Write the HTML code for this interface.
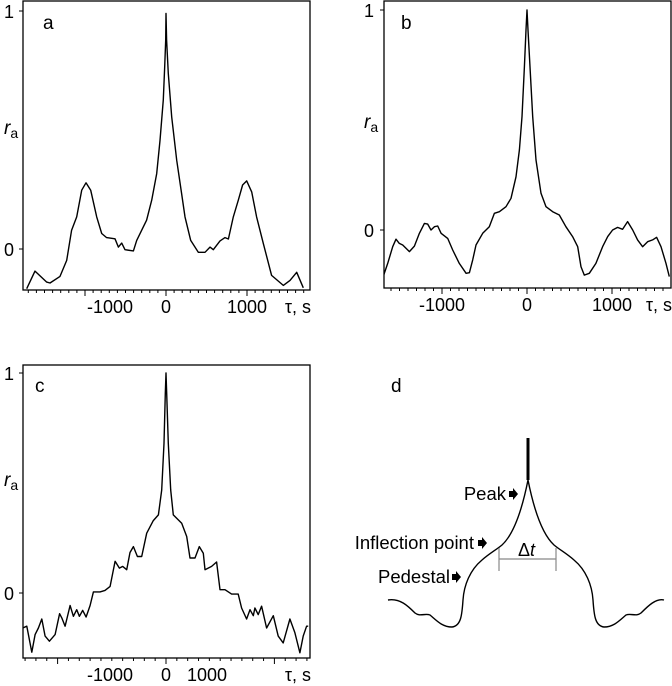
<!DOCTYPE html>
<html><head><meta charset="utf-8">
<style>
html,body{margin:0;padding:0;background:#fff;}
svg{display:block;font-family:"Liberation Sans",sans-serif;}
</style></head>
<body>
<svg id="fig" width="672" height="686" viewBox="0 0 672 686" xmlns="http://www.w3.org/2000/svg"></svg>
<script>
const tauA=[-1720,-1617,-1473,-1432,-1309,-1226,-1165,-1103,-1041,-988,-930,-856,-794,-733,-630,-588,-547,-506,-403,-362,-300,-239,-177,-115,-74,-33,-16,-4,0,8,29,70,132,193,235,305,399,481,543,584,667,728,770,831,893,946,996,1058,1119,1202,1304,1448,1531,1613,1695];
const valA=[-0.167,-0.093,-0.139,-0.143,-0.115,-0.048,0.079,0.135,0.247,0.278,0.247,0.135,0.065,0.048,0.043,0.008,0.025,-0.003,-0.008,0.036,0.079,0.121,0.205,0.317,0.456,0.627,0.767,0.878,0.99,0.878,0.737,0.555,0.373,0.233,0.135,0.036,-0.014,-0.014,0.008,-0.003,0.034,0.048,0.042,0.135,0.205,0.269,0.286,0.240,0.135,0.022,-0.111,-0.153,-0.132,-0.098,-0.163];
const tauB=[-1686,-1639,-1580,-1541,-1502,-1462,-1423,-1384,-1325,-1266,-1207,-1168,-1129,-1090,-1051,-1011,-933,-874,-796,-717,-678,-639,-600,-521,-443,-384,-325,-247,-188,-129,-90,-59,-31,-12,0,12,35,67,106,165,223,302,380,458,537,596,635,674,733,811,890,949,1007,1066,1125,1184,1243,1301,1360,1419,1478,1525,1576,1635,1674];
const valB=[-0.205,-0.152,-0.076,-0.042,-0.061,-0.068,-0.083,-0.098,-0.073,-0.015,0.030,0.027,0.000,0.015,0.018,-0.015,-0.038,-0.091,-0.152,-0.197,-0.194,-0.136,-0.068,-0.015,0.015,0.076,0.083,0.106,0.144,0.242,0.364,0.515,0.742,0.909,1.0,0.909,0.742,0.515,0.318,0.167,0.106,0.083,0.068,0.015,-0.030,-0.076,-0.167,-0.205,-0.197,-0.152,-0.076,-0.030,0.000,0.012,0.003,0.038,0.000,-0.045,-0.076,-0.053,-0.045,-0.033,-0.076,-0.152,-0.212];
const tauC=[-2642,-2569,-2476,-2415,-2354,-2292,-2231,-2151,-2047,-1964,-1923,-1862,-1770,-1708,-1647,-1598,-1536,-1475,-1401,-1340,-1217,-1125,-1032,-940,-860,-799,-725,-664,-602,-528,-449,-356,-234,-141,-80,-37,-12,0,12,43,86,135,289,381,442,535,615,688,719,842,934,996,1088,1211,1333,1395,1487,1549,1610,1641,1702,1764,1856,1979,2071,2163,2286,2378,2470,2532,2594,2624];
const valC=[-0.159,-0.151,-0.269,-0.189,-0.159,-0.118,-0.196,-0.219,-0.189,-0.094,-0.113,-0.151,-0.057,-0.106,-0.076,-0.106,-0.079,-0.109,-0.057,0.005,0.005,0.012,0.030,0.144,0.113,0.121,0.106,0.184,0.211,0.166,0.166,0.272,0.329,0.355,0.468,0.680,0.906,1.0,0.906,0.680,0.468,0.355,0.317,0.257,0.159,0.159,0.211,0.181,0.106,0.121,0.141,0.015,0.015,-0.005,-0.005,-0.068,-0.118,-0.076,-0.103,-0.068,-0.098,-0.060,-0.159,-0.103,-0.196,-0.227,-0.118,-0.181,-0.272,-0.196,-0.151,-0.151];
const xTickLabelsAB=["-1000","0","1000"];
const xTickValsAB=[-1000,0,1000];
const xTickLabelsC=["-1000","0","1000"];
const yTickLabels=["0","1"];
const yTickVals=[0,1];

const NS="http://www.w3.org/2000/svg";
const svg=document.getElementById('fig');
function mk(tag,attrs,parent){const e=document.createElementNS(NS,tag);for(const k in attrs)e.setAttribute(k,attrs[k]);(parent||svg).appendChild(e);return e;}

const panels=[
 {id:'a',L:23,R:310,T:1,B:290,x0:166,pxPer:81,y0:249,y1:11,tau:tauA,val:valA,minor:100,major:1000,
  xl:[[110,'-1000'],[166,'0'],[247,'1000']],letter:[43,29],ylx:4,ry:134},
 {id:'b',L:384,R:671,T:1,B:288,x0:527,pxPer:85,y0:230,y1:10,tau:tauB,val:valB,minor:100,major:1000,
  xl:[[442,'-1000'],[527,'0'],[612,'1000']],letter:[401,29],ylx:364,ry:128},
 {id:'c',L:23,R:310,T:365,B:658,x0:166,pxPer:54.2,y0:593,y1:373,tau:tauC,val:valC,minor:200,major:2000,
  xl:[[110,'-1000'],[166,'0'],[207,'1000']],letter:[35,392],ylx:4,ry:486}
];
panels.forEach(p=>{
  const g=mk('g',{});
  
  
  const X=t=>p.x0+t*p.pxPer/1000;
  const Y=v=>p.y0-v*(p.y0-p.y1);
  const cp=mk('clipPath',{id:'clip'+p.id},g);
  mk('rect',{x:p.L,y:p.T,width:p.R-p.L,height:p.B-p.T},cp);
  const fr=mk('rect',{x:p.L,y:p.T,width:p.R-p.L,height:p.B-p.T,fill:'none',stroke:'#000','stroke-width':1.3},g);
  
  
  const tmin=Math.ceil((p.L-p.x0)/p.pxPer*1000/p.minor)*p.minor;
  for(let t=tmin;X(t)<=p.R;t+=p.minor){
    const maj=(Math.abs(t)%p.major===0);
    const tk=mk('line',{x1:X(t),x2:X(t),y1:p.B,y2:p.B+(maj?6:3),stroke:'#000','stroke-width':1},g);
    
    
  }
  yTickVals.forEach((v,i)=>{
    const tk=mk('line',{x1:p.L-4,x2:p.L,y1:Y(v),y2:Y(v),stroke:'#000','stroke-width':1},g);
    
    
    const tl=mk('text',{x:p.ylx,y:Y(v)+7,'font-size':18},g);
    tl.textContent=yTickLabels[i];
    
    
  });
  p.xl.forEach(([x,s])=>{
    const tl=mk('text',{x:x,y:p.B+23,'font-size':18,'text-anchor':'middle'},g);
    tl.textContent=s;
    
    
  });
  const xt=mk('text',{x:p.R+1,y:p.B+23,'font-size':18,'text-anchor':'end'},g);
  xt.textContent='τ, s';
  
  
  const yt=mk('text',{x:p.ylx,y:p.ry,'font-size':19,'font-style':'italic'},g);
  yt.innerHTML='r<tspan font-size="14" dy="4" font-style="normal">a</tspan>';
  
  
  const lt=mk('text',{x:p.letter[0],y:p.letter[1],'font-size':19},g);
  lt.textContent=p.id;
  
  
  let d='';
  p.tau.forEach((t,i)=>{d+=(i?'L':'M')+X(t).toFixed(1)+' '+Y(p.val[i]).toFixed(1);});
  const ln=mk('path',{d:d,fill:'none',stroke:'#000','stroke-width':1.4,'clip-path':'url(#clip'+p.id+')','stroke-linejoin':'round'},g);
  
  
});
</script>
<svg style="position:absolute;left:0;top:0" width="672" height="686">
  <text x="391" y="392" font-size="19" font-family="Liberation Sans">d</text>
  <path d="M388 600 C400 598 408 606 415 613 C420 617 425 613 430 615 C436 620 442 627 452 627 C461 626 462 615 463 600 C464 585 470 570 482 560 C490 553 496 550 502 545 C515 533 523 505 528 480 C533 505 541 533 554 545 C560 550 566 553 574 560 C586 570 592 585 593 600 C594 615 595 626 604 627 C614 627 620 620 626 615 C631 613 636 617 641 613 C648 606 656 598 664 600" fill="none" stroke="#000" stroke-width="1.4"/>
  <line x1="528" y1="438" x2="528" y2="480" stroke="#000" stroke-width="3"/>
  <g stroke="#888" stroke-width="1.2">
    <line x1="499" y1="559" x2="556" y2="559"/><line x1="499" y1="548" x2="499" y2="571"/><line x1="556" y1="548" x2="556" y2="571"/>
  </g>
  <text x="518" y="556" font-size="18" font-family="Liberation Sans">Δ<tspan font-style="italic">t</tspan></text>
  <text x="506" y="500" font-size="18.5" text-anchor="end" font-family="Liberation Sans">Peak</text>
  <polygon points="509,491 513,491 513,488 518,494 513,500 513,497 509,497" fill="#000"/>
  <text x="474" y="549" font-size="18.5" text-anchor="end" font-family="Liberation Sans">Inflection point</text>
  <polygon points="478,540 482,540 482,537 487,543 482,549 482,546 478,546" fill="#000"/>
  <text x="450" y="583" font-size="18.5" text-anchor="end" font-family="Liberation Sans">Pedestal</text>
  <polygon points="452,574 456,574 456,571 461,577 456,583 456,580 452,580" fill="#000"/>
</svg>
</body></html>
